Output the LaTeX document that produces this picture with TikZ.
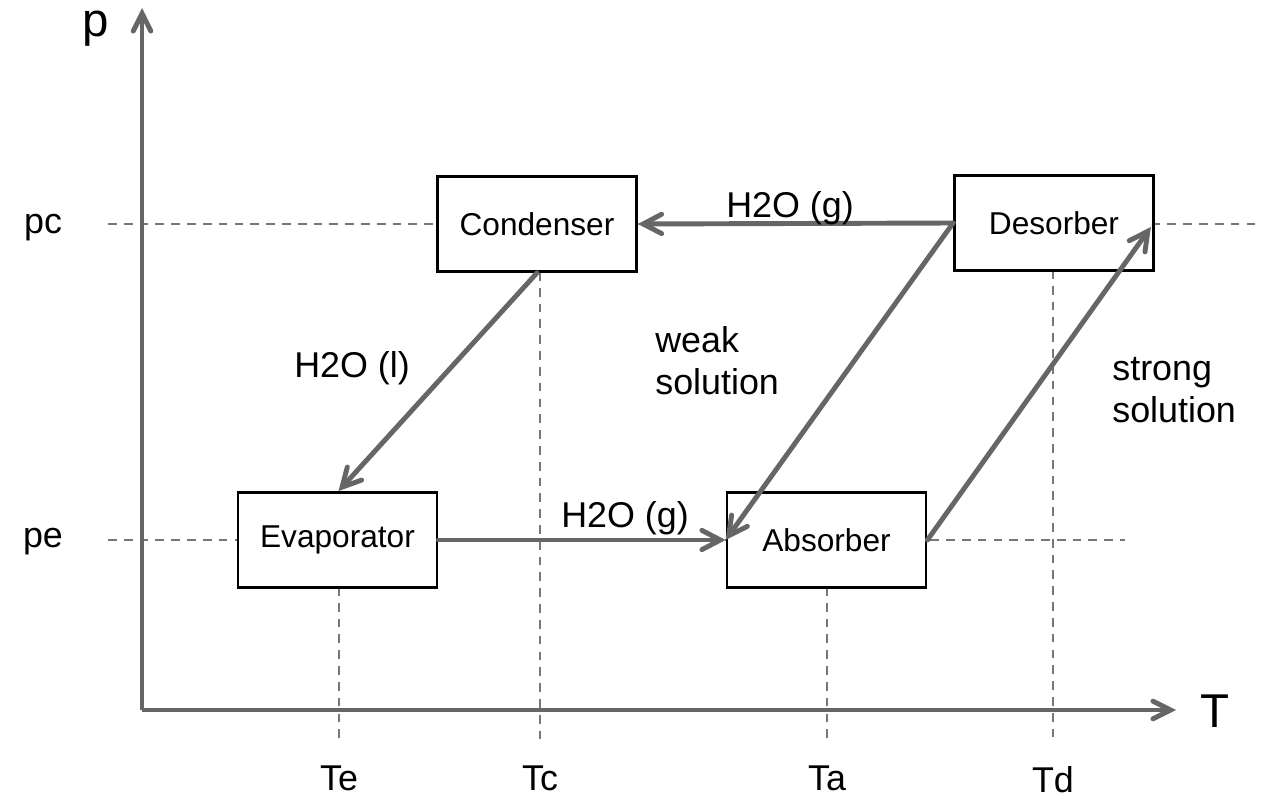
\documentclass[tikz,border=0pt]{standalone}
\usepackage{fontspec}
\setmainfont{Liberation Sans}
\usetikzlibrary{arrows.meta,calc}
\definecolor{arrowgray}{HTML}{666666}
\definecolor{dashgray}{HTML}{777777}
\begin{document}
\begin{tikzpicture}[x=0.02cm,y=-0.02cm,
  box/.style={draw=black,line width=1.6pt,fill=white,minimum width=3.98cm,minimum height=1.9cm,inner sep=0pt,font=\fontsize{18}{20}\selectfont},
  flow/.style={draw=arrowgray,line width=2.8pt,line cap=round,-{Straight Barb[length=10.5pt,width=11pt,line cap=round]}},
  axis/.style={draw=arrowgray,line width=2.8pt,-{Straight Barb[length=10pt,width=10pt,line cap=round]}},
  guide/.style={draw=dashgray,line width=0.8pt,dash pattern=on 5pt off 4pt},
  lbl/.style={font=\fontsize{20.4}{24}\selectfont,inner sep=0pt},
  big/.style={font=\fontsize{27}{30}\selectfont,inner sep=0pt,anchor=base}]
\useasboundingbox (0,0) rectangle (1261,797);
% guide lines
\draw[guide] (108,224) -- (1261,224);
\draw[guide] (108,540) -- (1125,540);
\draw[guide] (339,587) -- (339,742);
\draw[guide] (540,272) -- (540,742);
\draw[guide] (827,587) -- (827,742);
\draw[guide] (1053,270) -- (1053,742);
% boxes
\node[box] (cond) at (537,224) {Condenser};
\node[box] (des) at (1054,223) {Desorber};
\node[box] (evap) at (337.5,540) {Evaporator};
\node[box] (abs) at (826.5,540) {Absorber};
% axes
\coordinate (O) at (142,710);
\coordinate (ptop) at (142,8);
\coordinate (tend) at (1176,710);
\draw[axis] (O) -- (ptop);
\draw[axis] (O) -- (tend);
\node[big,text height=0.52em] (plab) at (96,37) {p};
\node[big] (tlab) at (1215,727) {T};
% axis labels
\node[lbl] (pc) at (43,228) {pc};
\node[lbl] (pe) at (43,542) {pe};
\node[lbl] (te) at (339,778) {Te};
\node[lbl] (tc) at (540,778) {Tc};
\node[lbl] (ta) at (827,778) {Ta};
\node[lbl,anchor=base,text height=0.72em,text depth=0pt] (td) at (1053,792) {Td};
% flows
\draw[flow] (des.west) -- (cond.east);
\draw[flow] (cond.south) -- ($(evap.north)+(1,0)$);
\draw[flow] (evap.east) -- (abs.west);
\draw[flow] (des.west) -- (abs.west);
\draw[flow] (abs.east) -- ($(des.east)+(-4,4)$);
% flow labels
\node[lbl] (l1) at (790,208) {H2O (g)};
\node[lbl] (l2) at (352,368) {H2O (l)};
\node[lbl] (l3) at (625,518) {H2O (g)};
\node[lbl,align=left,anchor=west] (l4) at (655,361) {weak\\solution};
\node[lbl,align=left,anchor=west] (l5) at (1112,390) {strong\\solution};
\end{tikzpicture}
\end{document}
